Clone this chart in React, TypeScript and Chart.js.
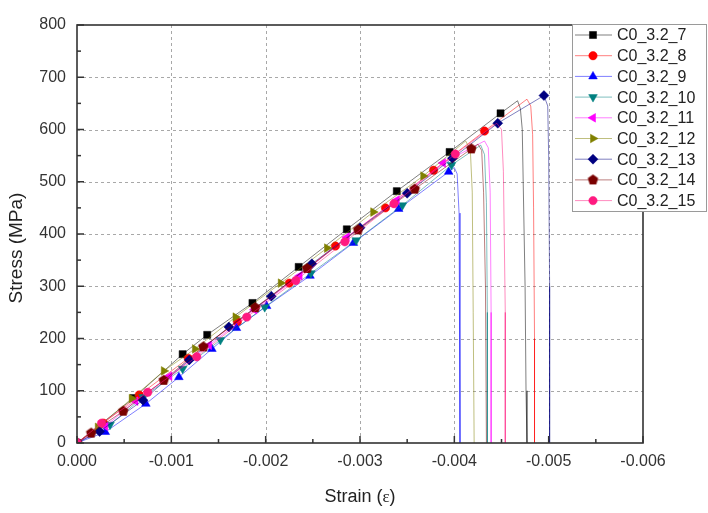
import React, { useEffect, useRef } from 'react';
import { Chart, registerables } from 'chart.js';
import { drawPoint } from 'chart.js/helpers';

Chart.register(...registerables);

// ---- data (strain is negative, stress in MPa) ----
const seriesNames = ['C0_3.2_7', 'C0_3.2_8', 'C0_3.2_9', 'C0_3.2_10', 'C0_3.2_11', 'C0_3.2_12', 'C0_3.2_13', 'C0_3.2_14', 'C0_3.2_15'];

const s7Strain = [0, -0.0006, -0.00112, -0.00138, -0.00186, -0.00235, -0.00286, -0.00339, -0.00395, -0.00449, -0.00467, -0.0047, -0.00472, -0.00473, -0.00475, -0.00476, -0.00477];
const s7Stress = [0, 86, 170, 207, 268, 337, 409, 482, 557, 631, 655, 640, 600, 500, 300, 100, 0];

const s8Strain = [0, -0.00028, -0.00066, -0.00118, -0.0017, -0.00225, -0.00274, -0.00327, -0.00378, -0.00432, -0.00477, -0.00481, -0.00483, -0.00484, -0.00485, -0.00485];
const s8Stress = [0, 38, 92, 162, 232, 306, 377, 450, 522, 597, 658, 645, 590, 450, 200, 0];

const s9Strain = [0, -0.0003, -0.00073, -0.00108, -0.00143, -0.00169, -0.00201, -0.00247, -0.00293, -0.00341, -0.00394, -0.004, -0.00403, -0.00405, -0.00406, -0.00406];
const s9Stress = [0, 21, 75, 126, 180, 220, 262, 320, 383, 448, 519, 527, 515, 440, 200, 0];

const s10Strain = [0, -0.00035, -0.0007, -0.00112, -0.00152, -0.00199, -0.00248, -0.00296, -0.00345, -0.00397, -0.00428, -0.00432, -0.00434, -0.00435, -0.00435];
const s10Stress = [0, 35, 88, 142, 197, 260, 325, 388, 455, 532, 570, 552, 460, 250, 0];

const s11Strain = [0, -0.0003, -0.00062, -0.00098, -0.0014, -0.00188, -0.00236, -0.00286, -0.00339, -0.00388, -0.00432, -0.00436, -0.00438, -0.00439, -0.00439];
const s11Stress = [0, 32, 80, 128, 187, 255, 320, 394, 465, 536, 578, 565, 480, 250, 0];

const s12Strain = [0, -0.00022, -0.00058, -0.00092, -0.00125, -0.00168, -0.00216, -0.00265, -0.00314, -0.00367, -0.00412, -0.00417, -0.00419, -0.0042, -0.00421];
const s12Stress = [0, 30, 85, 138, 180, 241, 306, 373, 442, 511, 578, 560, 480, 250, 0];

const s13Strain = [0, -0.00024, -0.0007, -0.00119, -0.00161, -0.00206, -0.00249, -0.003, -0.0035, -0.00398, -0.00446, -0.00495, -0.00499, -0.005, -0.00501, -0.00501];
const s13Stress = [0, 22, 82, 159, 222, 281, 343, 412, 478, 545, 612, 665, 645, 550, 300, 0];

const s14Strain = [0, -0.00015, -0.00049, -0.00092, -0.00134, -0.00189, -0.00244, -0.00298, -0.00358, -0.00418, -0.00425, -0.00429, -0.00431, -0.00433, -0.00434];
const s14Stress = [0, 19, 61, 120, 184, 259, 334, 408, 486, 563, 572, 560, 480, 300, 0];

const s15Strain = [0, -0.00026, -0.00075, -0.00127, -0.0018, -0.00232, -0.00284, -0.00336, -0.00401, -0.00445, -0.0045, -0.00452, -0.00454, -0.00454];
const s15Stress = [0, 38, 97, 165, 241, 311, 385, 458, 553, 612, 600, 520, 250, 0];

// number of leading points that carry a marker
const markerCounts = [10, 10, 11, 10, 10, 10, 12, 10, 9];

const xTickValues = [0, -0.001, -0.002, -0.003, -0.004, -0.005, -0.006];
const xMinorValues = [-0.0005, -0.0015, -0.0025, -0.0035, -0.0045, -0.0055];
const yTickValues = [0, 100, 200, 300, 400, 500, 600, 700, 800];
const yMinorValues = [50, 150, 250, 350, 450, 550, 650, 750];

const seriesColors = ['#000000', '#ff0000', '#0000ff', '#008080', '#ff00ff', '#808000', '#000080', '#7a0000', '#ff1a80'];
const pointStyles = ['rect', 'circle', 'triangle', 'triangle', 'triangle', 'triangle', 'rectRot', 'pentagon', 'circle'];
const pointRotations = [0, 0, 0, 180, -90, 90, 0, 0, 0];
const pointRadii = [5, 4.2, 5, 5, 5, 5, 5, 5, 4.2];

const FONT = "'Liberation Sans', Arial, sans-serif";

function makePentagon(color: string, r: number) {
  const c = document.createElement('canvas');
  const size = Math.ceil(2 * r + 2);
  c.width = size;
  c.height = size;
  const g = c.getContext('2d')!;
  g.fillStyle = color;
  g.beginPath();
  for (let k = 0; k < 5; k++) {
    const a = -Math.PI / 2 + (k * 2 * Math.PI) / 5;
    const px = size / 2 + Math.cos(a) * r;
    const py = size / 2 + Math.sin(a) * r;
    if (k === 0) g.moveTo(px, py);
    else g.lineTo(px, py);
  }
  g.closePath();
  g.fill();
  return c;
}

export default function App() {
  const ref = useRef<HTMLCanvasElement | null>(null);

  useEffect(() => {
    if (!ref.current) return;
    const strains = [s7Strain, s8Strain, s9Strain, s10Strain, s11Strain, s12Strain, s13Strain, s14Strain, s15Strain];
    const stresses = [s7Stress, s8Stress, s9Stress, s10Stress, s11Stress, s12Stress, s13Stress, s14Stress, s15Stress];

    const styles: any[] = pointStyles.map((s, i) => (s === 'pentagon' ? makePentagon(seriesColors[i], pointRadii[i] + 0.5) : s));

    const datasets = seriesNames.map((name, i) => ({
      label: name,
      data: strains[i].map((x, j) => ({ x, y: stresses[i][j] })),
      borderColor: seriesColors[i] + '80',
      backgroundColor: seriesColors[i],
      pointBackgroundColor: seriesColors[i],
      pointBorderColor: seriesColors[i],
      pointBorderWidth: 0.5,
      borderWidth: 1,
      pointStyle: styles[i],
      pointRotation: pointRotations[i],
      pointRadius: (ctx: any) => (ctx.dataIndex < markerCounts[i] ? pointRadii[i] : 0),
      pointHoverRadius: 0,
      tension: 0,
      fill: false,
      order: -i,
    }));

    const framePlugin = {
      id: 'frame',
      beforeDatasetsDraw(chart: any) {
        const { ctx, chartArea: a, scales } = chart;
        const xs = scales.x;
        const ys = scales.y;
        ctx.save();
        ctx.strokeStyle = '#a8a8a8';
        ctx.lineWidth = 1;
        ctx.setLineDash([3, 3]);
        xTickValues.forEach((v) => {
          if (v === 0 || v === -0.006) return;
          const px = Math.round(xs.getPixelForValue(v)) + 0.5;
          ctx.beginPath();
          ctx.moveTo(px, a.top);
          ctx.lineTo(px, a.bottom);
          ctx.stroke();
        });
        yTickValues.forEach((v) => {
          if (v === 0 || v === 800) return;
          const py = Math.round(ys.getPixelForValue(v)) + 0.5;
          ctx.beginPath();
          ctx.moveTo(a.left, py);
          ctx.lineTo(a.right, py);
          ctx.stroke();
        });
        ctx.restore();
      },
      afterDraw(chart: any) {
        const { ctx, chartArea: a, scales } = chart;
        const xs = scales.x;
        const ys = scales.y;
        ctx.save();
        ctx.strokeStyle = '#333333';
        ctx.lineWidth = 1.6;
        ctx.setLineDash([]);
        ctx.strokeRect(a.left, a.top, a.right - a.left, a.bottom - a.top);
        // inward ticks
        ctx.lineWidth = 1.5;
        const tickX = (vals: number[], len: number) => {
          vals.forEach((v) => {
            const px = xs.getPixelForValue(v);
            ctx.beginPath();
            ctx.moveTo(px, a.bottom);
            ctx.lineTo(px, a.bottom - len);
            ctx.stroke();
          });
        };
        const tickY = (vals: number[], len: number) => {
          vals.forEach((v) => {
            const py = ys.getPixelForValue(v);
            ctx.beginPath();
            ctx.moveTo(a.left, py);
            ctx.lineTo(a.left + len, py);
            ctx.stroke();
          });
        };
        tickX(xTickValues, 7);
        tickX(xMinorValues, 4);
        tickY(yTickValues, 7);
        tickY(yMinorValues, 4);

        // axis titles
        ctx.fillStyle = '#222222';
        ctx.textBaseline = 'middle';
        ctx.font = `18px ${FONT}`;
        const t1 = 'Strain (';
        const t2 = 'ε';
        const t3 = ')';
        const w1 = ctx.measureText(t1).width;
        ctx.font = `17px 'Liberation Serif', 'DejaVu Serif', serif`;
        const w2 = ctx.measureText(t2).width;
        ctx.font = `18px ${FONT}`;
        const w3 = ctx.measureText(t3).width;
        const cx = (a.left + a.right) / 2;
        let sx = cx - (w1 + w2 + w3) / 2;
        const ty = 497;
        ctx.textAlign = 'left';
        ctx.fillText(t1, sx, ty);
        sx += w1;
        ctx.font = `17px 'Liberation Serif', 'DejaVu Serif', serif`;
        ctx.fillText(t2, sx, ty + 1);
        sx += w2;
        ctx.font = `18px ${FONT}`;
        ctx.fillText(t3, sx, ty);

        ctx.save();
        ctx.translate(17, 248);
        ctx.rotate(-Math.PI / 2);
        ctx.textAlign = 'center';
        ctx.font = `19px ${FONT}`;
        ctx.fillText('Stress (MPa)', 0, 0);
        ctx.restore();

        // legend
        const lx = 572;
        const ly = 24;
        const lw = 134;
        const lh = 187;
        ctx.fillStyle = '#ffffff';
        ctx.fillRect(lx, ly, lw, lh);
        ctx.strokeStyle = '#9a9a9a';
        ctx.lineWidth = 1;
        ctx.strokeRect(lx + 0.5, ly + 0.5, lw, lh);
        seriesNames.forEach((name, i) => {
          const yy = 35 + i * 20.7;
          ctx.strokeStyle = seriesColors[i] + '80';
          ctx.lineWidth = 1;
          ctx.beginPath();
          ctx.moveTo(575, yy);
          ctx.lineTo(612, yy);
          ctx.stroke();
          ctx.fillStyle = seriesColors[i];
          ctx.strokeStyle = seriesColors[i];
          ctx.lineWidth = 0.5;
          drawPoint(ctx, { pointStyle: styles[i], rotation: pointRotations[i], radius: pointRadii[i], borderWidth: 0.5 } as any, 593, yy);
          ctx.fillStyle = '#222222';
          ctx.font = `16px ${FONT}`;
          ctx.textAlign = 'left';
          ctx.textBaseline = 'middle';
          ctx.fillText(name, 617, yy + 1);
        });
        ctx.restore();
      },
    };

    const chart = new Chart(ref.current, {
      type: 'line',
      data: { datasets: datasets as any },
      options: {
        animation: false,
        responsive: false,
        maintainAspectRatio: false,
        layout: { padding: { left: 0, right: 65, top: 25, bottom: 0 } },
        plugins: { legend: { display: false }, tooltip: { enabled: false } },
        events: [],
        scales: {
          x: {
            type: 'linear',
            min: -0.006,
            max: 0,
            reverse: true,
            grid: { display: false, drawTicks: false },
            border: { display: false },
            afterBuildTicks: (scale: any) => {
              scale.ticks = xTickValues.map((v) => ({ value: v }));
            },
            afterFit: (scale: any) => {
              scale.height = 70;
            },
            ticks: {
              padding: 9,
              color: '#333333',
              font: { size: 16, family: FONT },
              maxRotation: 0,
              autoSkip: false,
              callback: (v: any) => Number(v).toFixed(3),
            },
          },
          y: {
            type: 'linear',
            min: 0,
            max: 800,
            grid: { display: false, drawTicks: false },
            border: { display: false },
            afterBuildTicks: (scale: any) => {
              scale.ticks = yTickValues.map((v) => ({ value: v }));
            },
            afterFit: (scale: any) => {
              scale.width = 77;
            },
            ticks: {
              padding: 11,
              color: '#333333',
              font: { size: 16, family: FONT },
              autoSkip: false,
              callback: (v: any) => String(v),
            },
          },
        },
      },
      plugins: [framePlugin],
    });
    return () => chart.destroy();
  }, []);

  return (
    <div style={{ position: 'absolute', left: 0, top: 0, width: 708, height: 513, background: '#fff' }}>
      <canvas ref={ref} width={708} height={513} style={{ width: 708, height: 513, display: 'block' }} />
    </div>
  );
}
